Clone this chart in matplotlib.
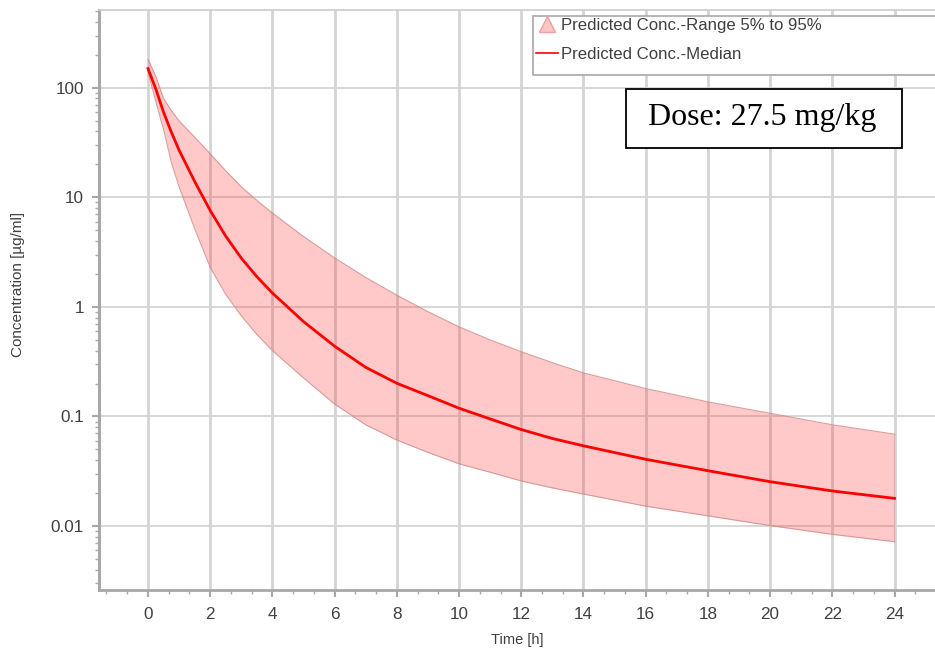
import numpy as np
import matplotlib
matplotlib.use("Agg")
import matplotlib.pyplot as plt
from matplotlib.ticker import MultipleLocator, LogLocator, FixedLocator, NullFormatter
from matplotlib.lines import Line2D
from matplotlib.patches import Rectangle

plt.rcParams['font.family'] = ['Liberation Sans', 'DejaVu Sans']

# time points [h] and predicted concentrations [ug/ml]
time = [0, 0.25, 0.5, 0.75, 1, 1.5, 2, 2.5, 3, 3.5, 4, 5, 6, 7, 8, 9, 10, 11, 12, 13, 14,
        16, 18, 20, 22, 24]
median = [150, 98, 60, 39.5, 27, 14, 7.6, 4.43, 2.79, 1.89, 1.34, 0.735, 0.438, 0.281, 0.201,
          0.155, 0.119, 0.095, 0.076, 0.063, 0.054, 0.0407, 0.032, 0.0254, 0.0209, 0.0179]
upper = [182, 128, 80, 62, 50, 35.5, 25, 17.5, 12.5, 9.4, 7.2, 4.4, 2.8, 1.86, 1.28, 0.906,
         0.658, 0.5, 0.39, 0.31, 0.25, 0.18, 0.136, 0.107, 0.084, 0.069]
lower = [140, 75, 42, 21, 12.5, 5.2, 2.3, 1.3, 0.83, 0.56, 0.40, 0.225, 0.13, 0.084, 0.061,
         0.047, 0.037, 0.031, 0.0258, 0.0223, 0.0196, 0.0152, 0.0124, 0.0101, 0.0084, 0.0072]

x_ticks = list(range(0, 25, 2))
y_ticks = [0.01, 0.1, 1, 10, 100]
y_labels = ["0.01", "0.1", "1", "10", "100"]

fig = plt.figure(figsize=(9.35, 6.55), dpi=100)
ax = fig.add_axes([0.106, 0.099, 0.894, 0.886])

band_col = "#ff2020"
ax.fill_between(time, lower, upper, color=band_col, alpha=0.24, linewidth=0, zorder=2)
ax.plot(time, upper, color="#d08888", lw=0.8, alpha=0.8, zorder=2)
ax.plot(time, lower, color="#d08888", lw=0.8, alpha=0.8, zorder=2)
ax.plot(time, median, color="#ff0000", lw=2, zorder=3)

ax.set_yscale("log")
ax.set_xlim(-1.57, 25.3)
ax.set_ylim(0.0026, 515)

ax.xaxis.set_major_locator(FixedLocator(x_ticks))
ax.xaxis.set_minor_locator(MultipleLocator(2 / 3))
ax.yaxis.set_major_locator(FixedLocator(y_ticks))
ax.set_yticklabels(y_labels)
ax.yaxis.set_minor_locator(LogLocator(base=10, subs=np.arange(2, 10)))
ax.yaxis.set_minor_formatter(NullFormatter())

ax.grid(True, axis="x", which="major", color="#d4d4d4", lw=2, zorder=0)
ax.grid(True, axis="y", which="major", color="#d4d4d4", lw=1.3, zorder=0)
ax.set_axisbelow(True)

ax.spines["right"].set_visible(False)
ax.spines["top"].set_color("#cccccc")
ax.spines["top"].set_linewidth(1.2)
ax.spines["left"].set_color("#a8a8a8")
ax.spines["left"].set_linewidth(2.2)
ax.spines["bottom"].set_color("#a8a8a8")
ax.spines["bottom"].set_linewidth(2)

ax.tick_params(axis="both", which="major", colors="#a8a8a8", length=5, width=1.5,
               labelcolor="#404040", labelsize=12.3)
ax.tick_params(axis="both", which="minor", colors="#a8a8a8", length=3, width=1)
ax.tick_params(axis="x", which="major", pad=7)
ax.tick_params(axis="y", which="major", pad=6)

ax.set_xlabel("Time [h]", fontsize=10.5, color="#404040", labelpad=8)
ax.set_ylabel("Concentration [\u00b5g/ml]", fontsize=11, color="#404040")
ax.yaxis.set_label_coords(-0.0885, 0.526)

# legend with its own frame
frame = Rectangle((0.519, 0.888), 0.6, 0.102, transform=ax.transAxes, fill=True,
                  facecolor="white", edgecolor="#a8a8a8", lw=1.2, zorder=5, clip_on=False)
ax.add_patch(frame)
handles = [Line2D([], [], marker="^", ls="none", markersize=11, markerfacecolor="#ffc4c4",
                  markeredgecolor="#f0a0a0"),
           Line2D([], [], color="#ff0000", lw=1.2)]
leg = ax.legend(handles, ["Predicted Conc.-Range 5% to 95%", "Predicted Conc.-Median"],
                loc="upper left", bbox_to_anchor=(0.511, 1.004), frameon=False,
                fontsize=12.1, labelcolor="#404040", handlelength=1.3, handletextpad=0.15,
                labelspacing=0.86, borderaxespad=0.2)
leg.set_zorder(6)

# dose annotation box
dose_box = Rectangle((0.630, 0.762), 0.331, 0.102, transform=ax.transAxes, facecolor="white",
                     edgecolor="black", lw=1.3, zorder=7)
ax.add_patch(dose_box)
ax.text(0.7935, 0.814, "Dose: 27.5 mg/kg", transform=ax.transAxes, ha="center", va="center",
        fontsize=23, family="Liberation Serif", color="black", zorder=8)

fig.savefig("out.png", dpi=100)
